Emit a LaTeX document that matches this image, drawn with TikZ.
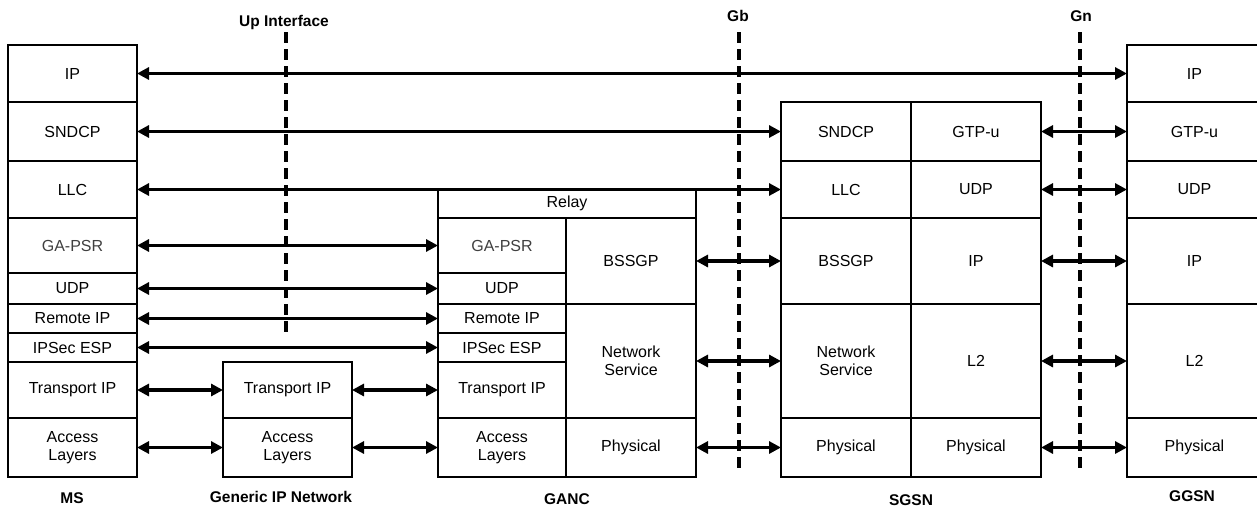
\documentclass[tikz,border=0pt]{standalone}
\usepackage{fontspec}
\setmainfont{Liberation Sans}
\usetikzlibrary{arrows.meta}
\tikzset{
 cellst/.style={draw, line width=1.5pt, inner sep=0pt, outer sep=0pt, align=center, font=\fontsize{16}{18}\selectfont},
 grayt/.style={text=black!75},
 link/.style={{Triangle[length=12pt,width=12pt]}-{Triangle[length=12pt,width=12pt]}, line width=3.5pt},
 iface/.style={line width=3.3pt, dash pattern=on 11pt off 6pt},
 lbl/.style={font=\fontsize{15.5}{17.5}\selectfont\bfseries, inner sep=0pt}
}
\newcommand\cellbox[7][]{\node[cellst,#1, minimum width={(#5-#3)*1pt}, minimum height={(#6-#4)*1pt}] (#2) at ({(#3+#5)/2},{(#4+#6)/2}) {#7};}
\begin{document}
\begin{tikzpicture}[x=1pt,y=-1pt]
\useasboundingbox (0,0) rectangle (1257,507);
% interface lines
\coordinate (upT) at (286,32); \coordinate (upB) at (286,337);
\coordinate (gbT) at (739,32); \coordinate (gbB) at (739,472);
\coordinate (gnT) at (1080,32); \coordinate (gnB) at (1080,472);
\draw[iface] (upT) -- (upB);
\draw[iface] (gbT) -- (gbB);
\draw[iface] (gnT) -- (gnB);
\node[lbl] (upL) at (284,22) {Up Interface};
\node[lbl] (gbL) at (738,16) {Gb};
\node[lbl] (gnL) at (1081,16) {Gn};
% MS
\cellbox{msIP}{8}{45}{137}{102}{IP}
\cellbox{msSNDCP}{8}{102}{137}{161}{SNDCP}
\cellbox{msLLC}{8}{161}{137}{218}{LLC}
\cellbox[grayt]{msGAPSR}{8}{218}{137}{273}{GA-PSR}
\cellbox{msUDP}{8}{273}{137}{304}{UDP}
\cellbox{msRIP}{8}{304}{137}{333}{Remote IP}
\cellbox{msESP}{8}{333}{137}{362}{IPSec ESP}
\cellbox{msTIP}{8}{362}{137}{418}{Transport IP}
\cellbox{msAL}{8}{418}{137}{477}{Access\\Layers}
% Generic IP network
\cellbox{giTIP}{223}{362}{352}{418}{Transport IP}
\cellbox{giAL}{223}{418}{352}{477}{Access\\Layers}
% GANC
\cellbox{gaRelay}{438}{189}{696}{218}{Relay}
\cellbox[grayt]{gaGAPSR}{438}{218}{566}{273}{GA-PSR}
\cellbox{gaUDP}{438}{273}{566}{304}{UDP}
\cellbox{gaRIP}{438}{304}{566}{333}{Remote IP}
\cellbox{gaESP}{438}{333}{566}{362}{IPSec ESP}
\cellbox{gaTIP}{438}{362}{566}{418}{Transport IP}
\cellbox{gaAL}{438}{418}{566}{477}{Access\\Layers}
\cellbox{gaBSSGP}{566}{218}{696}{304}{BSSGP}
\cellbox{gaNS}{566}{304}{696}{418}{Network\\Service}
\cellbox{gaPhy}{566}{418}{696}{477}{Physical}
% SGSN
\cellbox{sgSNDCP}{781}{102}{911}{161}{SNDCP}
\cellbox{sgGTP}{911}{102}{1041}{161}{GTP-u}
\cellbox{sgLLC}{781}{161}{911}{218}{LLC}
\cellbox{sgUDP}{911}{161}{1041}{218}{UDP}
\cellbox{sgBSSGP}{781}{218}{911}{304}{BSSGP}
\cellbox{sgIP}{911}{218}{1041}{304}{IP}
\cellbox{sgNS}{781}{304}{911}{418}{Network\\Service}
\cellbox{sgL2}{911}{304}{1041}{418}{L2}
\cellbox{sgPhyA}{781}{418}{911}{477}{Physical}
\cellbox{sgPhyB}{911}{418}{1041}{477}{Physical}
% GGSN
\cellbox{ggIP}{1127}{45}{1262}{102}{IP}
\cellbox{ggGTP}{1127}{102}{1262}{161}{GTP-u}
\cellbox{ggUDP}{1127}{161}{1262}{218}{UDP}
\cellbox{ggIP2}{1127}{218}{1262}{304}{IP}
\cellbox{ggL2}{1127}{304}{1262}{418}{L2}
\cellbox{ggPhy}{1127}{418}{1262}{477}{Physical}
% bottom labels
\node[lbl] (lMS) at (72,498) {MS};
\node[lbl] (lGI) at (281,497) {Generic IP Network};
\node[lbl] (lGA) at (567,499) {GANC};
\node[lbl] (lSG) at (911,500) {SGSN};
\node[lbl] (lGG) at (1192,496) {GGSN};
% links
\draw[link] (msIP.east) -- (msIP.east -| ggIP.west);
\draw[link] (msSNDCP.east) -- (msSNDCP.east -| sgSNDCP.west);
\draw[link] (msLLC.east) -- (msLLC.east -| sgLLC.west);
\draw[link] (msGAPSR.east) -- (msGAPSR.east -| gaGAPSR.west);
\draw[link] (msUDP.east) -- (msUDP.east -| gaUDP.west);
\draw[link] (msRIP.east) -- (msRIP.east -| gaRIP.west);
\draw[link] (msESP.east) -- (msESP.east -| gaESP.west);
\draw[link] (msTIP.east) -- (giTIP.west);
\draw[link] (msAL.east) -- (giAL.west);
\draw[link] (giTIP.east) -- (gaTIP.west);
\draw[link] (giAL.east) -- (gaAL.west);
\draw[link] (gaBSSGP.east) -- (sgBSSGP.west);
\draw[link] (gaNS.east) -- (sgNS.west);
\draw[link] (gaPhy.east) -- (sgPhyA.west);
\draw[link] (sgGTP.east) -- (ggGTP.west);
\draw[link] (sgUDP.east) -- (ggUDP.west);
\draw[link] (sgIP.east) -- (ggIP2.west);
\draw[link] (sgL2.east) -- (ggL2.west);
\draw[link] (sgPhyB.east) -- (ggPhy.west);
\end{tikzpicture}
\end{document}
